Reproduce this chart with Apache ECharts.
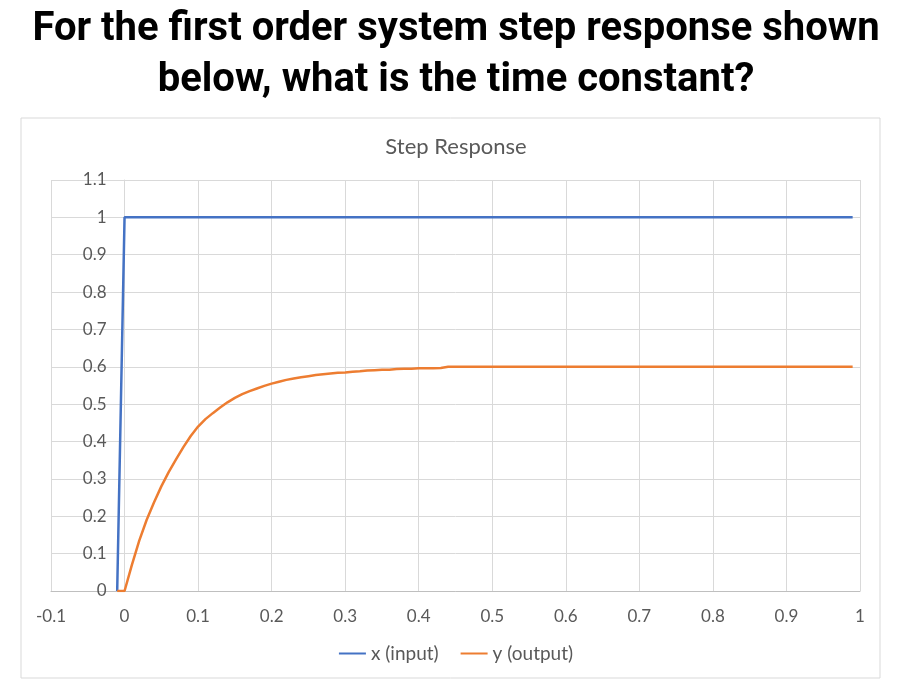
<!DOCTYPE html>
<html>
<head>
<meta charset="utf-8">
<script src="https://cdn.jsdelivr.net/npm/echarts@6/dist/echarts.min.js"></script>
<style>
  html, body { margin: 0; padding: 0; background: #fff; }
  #myChart { width: 912px; height: 698px; }
</style>
</head>
<body>
<div id="myChart"></div>
<script>
// data (t in seconds)
const headingLines = ['For the first order system step response shown', 'below, what is the time constant?'];
const inputT = [-0.01, 0, 0.99];
const inputX = [0, 1, 1];
const outputT = [-0.01, 0, 0.01, 0.02, 0.03, 0.04, 0.05, 0.06, 0.07, 0.08, 0.09,
    0.10, 0.11, 0.12, 0.13, 0.14, 0.15, 0.16, 0.17, 0.18, 0.19,
    0.20, 0.21, 0.22, 0.23, 0.24, 0.25, 0.26, 0.27, 0.28, 0.29,
    0.30, 0.31, 0.32, 0.33, 0.34, 0.35, 0.36, 0.37, 0.38, 0.39,
    0.40, 0.41, 0.42, 0.43, 0.44, 0.99];
const outputY = [0, 0, 0.07, 0.135, 0.19, 0.237, 0.28, 0.318, 0.352, 0.385, 0.415,
    0.44, 0.46, 0.476, 0.491, 0.505, 0.517, 0.527, 0.535, 0.542, 0.549,
    0.555, 0.56, 0.565, 0.569, 0.572, 0.575, 0.578, 0.58, 0.582, 0.584,
    0.585, 0.587, 0.588, 0.59, 0.591, 0.592, 0.592, 0.594, 0.595, 0.595,
    0.596, 0.596, 0.596, 0.597, 0.6, 0.6];
const xTicks = [-0.1, 0, 0.1, 0.2, 0.3, 0.4, 0.5, 0.6, 0.7, 0.8, 0.9, 1];
const yTicks = [0, 0.1, 0.2, 0.3, 0.4, 0.5, 0.6, 0.7, 0.8, 0.9, 1, 1.1];

const myChart = echarts.init(document.getElementById('myChart'));
const pair = (xs, ys) => xs.map((x, i) => [x, ys[i]]);
const fmt = v => String(Math.round(v * 10) / 10);
const txtColor = '#595959';
const font = 'Lato, "Open Sans", sans-serif';

// plot area in px; the value axis crosses at t = 0
const gridLeft = 51, gridRight = 52;
const plotWidth = 912 - gridLeft - gridRight;
const zeroOffset = plotWidth * (0 - xTicks[0]) / (xTicks[xTicks.length - 1] - xTicks[0]);

const option = {
    animation: false,
    graphic: [
        {
            type: 'rect',
            shape: { x: 21, y: 118, width: 859, height: 560 },
            style: { fill: 'none', stroke: '#d9d9d9', lineWidth: 1 },
            z: -1
        },
        ...headingLines.map((line, i) => ({
            type: 'text',
            left: 'center',
            top: 10 + i * 51,
            style: {
                text: line,
                font: 'bold 40px Roboto, "Liberation Sans", sans-serif',
                fill: '#000'
            }
        }))
    ],
    title: {
        text: 'Step Response',
        left: 'center',
        top: 131,
        textStyle: { color: txtColor, fontSize: 22, fontWeight: 'normal', fontFamily: font }
    },
    legend: {
        bottom: 30,
        left: 'center',
        itemWidth: 27,
        itemHeight: 2,
        itemGap: 22,
        icon: 'rect',
        textStyle: { color: txtColor, fontSize: 19, fontFamily: font },
        data: ['x (input)', 'y (output)']
    },
    grid: { left: gridLeft, right: gridRight, top: 180, bottom: 107 },
    xAxis: {
        type: 'value',
        min: xTicks[0],
        max: xTicks[xTicks.length - 1],
        interval: 0.1,
        axisLine: { onZero: false, lineStyle: { color: '#bfbfbf' } },
        axisTick: { show: false },
        axisLabel: { color: txtColor, fontSize: 17, fontFamily: font, margin: 17, formatter: fmt },
        splitLine: { lineStyle: { color: '#d9d9d9' } }
    },
    yAxis: {
        type: 'value',
        position: 'left',
        offset: -zeroOffset,
        min: yTicks[0],
        max: yTicks[yTicks.length - 1],
        interval: 0.1,
        axisLine: { show: true, onZero: false, lineStyle: { color: '#d9d9d9' } },
        axisTick: { show: false },
        axisLabel: { color: txtColor, fontSize: 17, fontFamily: font, margin: 18, formatter: fmt },
        splitLine: { lineStyle: { color: '#d9d9d9' } }
    },
    series: [
        {
            name: 'x (input)',
            type: 'line',
            data: pair(inputT, inputX),
            showSymbol: false,
            color: '#4472C4',
            lineStyle: { width: 2.5 }
        },
        {
            name: 'y (output)',
            type: 'line',
            data: pair(outputT, outputY),
            showSymbol: false,
            color: '#ED7D31',
            lineStyle: { width: 2.5 }
        }
    ]
};
myChart.setOption(option);

window.addEventListener('resize', myChart.resize);
</script>
</body>
</html>
